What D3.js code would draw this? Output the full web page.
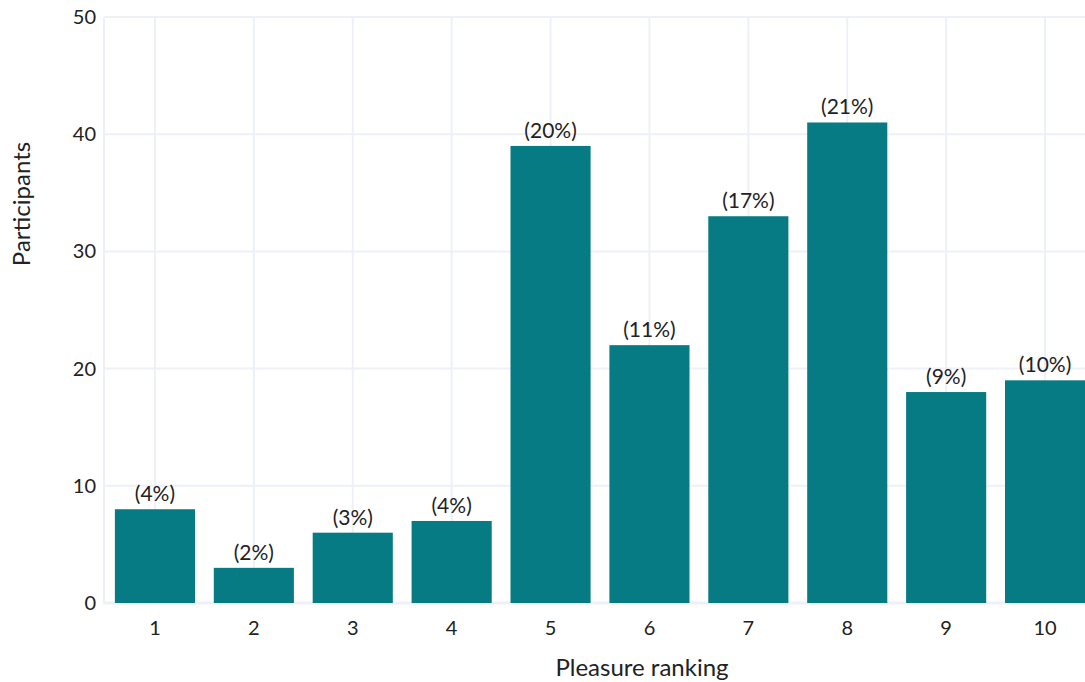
<!DOCTYPE html>
<html><head><meta charset="utf-8">
<script src="https://cdn.jsdelivr.net/npm/d3@7"></script>
<style>body{margin:0;background:#fff}svg{display:block}text{font-family:Lato,"Open Sans",sans-serif;fill:#222}</style>
</head><body>
<svg id="c" width="1085" height="682"></svg>
<script>
const categories = ["1","2","3","4","5","6","7","8","9","10"];
const participants = [8,3,6,7,39,22,33,41,18,19];
const pctLabels = ["(4%)","(2%)","(3%)","(4%)","(20%)","(11%)","(17%)","(21%)","(9%)","(10%)"];
const yTicks = [0,10,20,30,40,50];

const svg = d3.select("#c");
const x = d3.scaleBand().domain(categories).range([105,1095]).paddingInner(0.19).paddingOuter(0.1);
const y = d3.scaleLinear().domain([0,50]).range([603,17]);
const grid = "#edf1f7";

// grid
svg.append("g").selectAll("line.h").data(yTicks).join("line")
  .attr("x1",104).attr("x2",1085).attr("y1",d=>y(d)).attr("y2",d=>y(d))
  .attr("stroke",grid).attr("stroke-width",d=>d===0?3:2);
svg.append("g").selectAll("line.v").data(categories).join("line")
  .attr("x1",d=>x(d)+x.bandwidth()/2).attr("x2",d=>x(d)+x.bandwidth()/2)
  .attr("y1",y(50)).attr("y2",y(0)).attr("stroke",grid).attr("stroke-width",2);
svg.append("line").attr("x1",104).attr("x2",104).attr("y1",y(50)).attr("y2",y(0)+1.5)
  .attr("stroke",grid).attr("stroke-width",2);

// bars
svg.append("g").selectAll("rect").data(categories).join("rect")
  .attr("x",d=>x(d)).attr("width",x.bandwidth())
  .attr("y",(d,i)=>y(participants[i])).attr("height",(d,i)=>y(0)-y(participants[i]))
  .attr("fill","#077b84");

// value labels
svg.append("g").selectAll("text").data(categories).join("text")
  .attr("x",d=>x(d)+x.bandwidth()/2).attr("y",(d,i)=>y(participants[i])-8)
  .attr("text-anchor","middle").attr("font-size",21).text((d,i)=>pctLabels[i]);

// y axis
const ya = svg.append("g").attr("transform","translate(96,0)")
  .call(d3.axisLeft(y).tickValues(yTicks).tickSize(0).tickPadding(0));
ya.select(".domain").remove();
ya.selectAll("text").attr("font-size",20).attr("fill","#222").attr("font-family","Lato,'Open Sans',sans-serif");

// x axis
const xa = svg.append("g").attr("transform","translate(0,616)")
  .call(d3.axisBottom(x).tickSize(0).tickPadding(0));
xa.select(".domain").remove();
xa.selectAll("text").attr("font-size",20).attr("fill","#222").attr("dy","0.95em").attr("font-family","Lato,'Open Sans',sans-serif");

// titles
svg.append("text").attr("x",642).attr("y",676).attr("text-anchor","middle").attr("font-size",24).text("Pleasure ranking");
svg.append("text").attr("transform","translate(30,204) rotate(-90)").attr("text-anchor","middle").attr("font-size",24).text("Participants");
</script>
</body></html>
